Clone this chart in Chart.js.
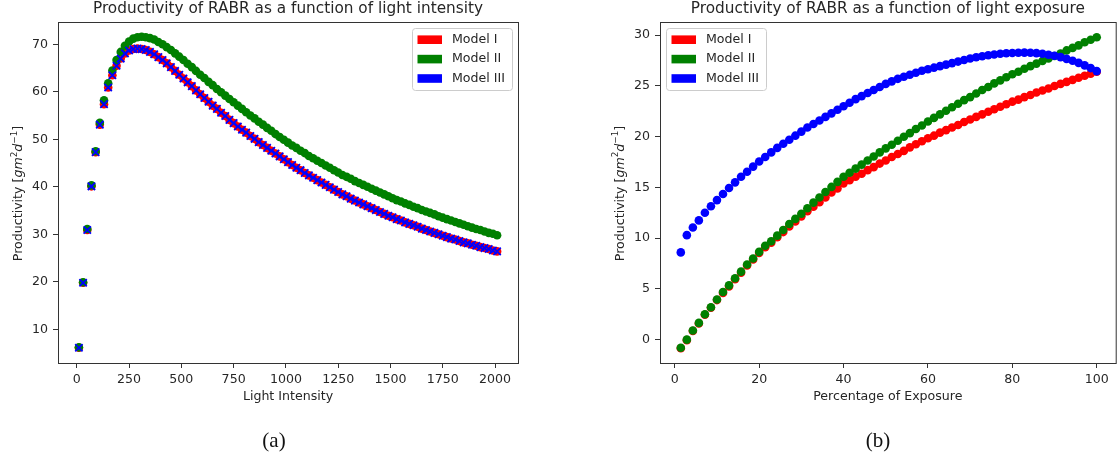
<!DOCTYPE html>
<html><head><meta charset="utf-8">
<script src="https://cdn.jsdelivr.net/npm/chart.js@4.4.1/dist/chart.umd.min.js"></script>
<style>
html,body{margin:0;padding:0;background:#fff;overflow:hidden;}
#page{position:relative;width:1119px;height:460px;overflow:hidden;background:#fff;}
.pane{position:absolute;top:0;}
.cap{position:absolute;top:430px;line-height:21px;font-family:"Liberation Serif","DejaVu Serif",serif;font-size:21px;color:#111;transform:translateX(-50%);white-space:nowrap;}
</style></head>
<body>
<div id="page">
 <div class="pane" style="left:0;width:540px;height:460px"><canvas id="c1" width="540" height="460"></canvas></div>
 <div class="pane" style="left:560px;width:560px;height:460px"><canvas id="c2" width="560" height="460"></canvas></div>
 <div class="cap" style="left:274px">(a)</div>
 <div class="cap" style="left:878px">(b)</div>
</div>
<script>
// ---------- data: panel (a) ----------
const lightIntensity = [
  10, 30, 50, 70, 90, 110, 130, 150, 170, 190,
  210, 230, 250, 270, 290, 310, 330, 350, 370, 390,
  410, 430, 450, 470, 490, 510, 530, 550, 570, 590,
  610, 630, 650, 670, 690, 710, 730, 750, 770, 790,
  810, 830, 850, 870, 890, 910, 930, 950, 970, 990,
  1010, 1030, 1050, 1070, 1090, 1110, 1130, 1150, 1170, 1190,
  1210, 1230, 1250, 1270, 1290, 1310, 1330, 1350, 1370, 1390,
  1410, 1430, 1450, 1470, 1490, 1510, 1530, 1550, 1570, 1590,
  1610, 1630, 1650, 1670, 1690, 1710, 1730, 1750, 1770, 1790,
  1810, 1830, 1850, 1870, 1890, 1910, 1930, 1950, 1970, 1990,
  2010
];
const modelI_intensity = [
  6.1, 19.8, 30.9, 40.1, 47.3, 53.1, 57.4, 60.9, 63.5, 65.5,
  67.0, 68.1, 68.7, 69.0, 69.1, 69.0, 68.8, 68.4, 67.9, 67.3,
  66.7, 66.0, 65.2, 64.4, 63.6, 62.8, 62.0, 61.2, 60.3, 59.5,
  58.7, 57.9, 57.1, 56.4, 55.6, 54.9, 54.1, 53.4, 52.7, 52.0,
  51.4, 50.7, 50.1, 49.4, 48.8, 48.2, 47.6, 47.0, 46.4, 45.8,
  45.2, 44.6, 44.0, 43.5, 42.9, 42.4, 41.9, 41.4, 40.9, 40.4,
  39.9, 39.4, 38.9, 38.4, 38.0, 37.5, 37.1, 36.7, 36.3, 35.9,
  35.5, 35.1, 34.7, 34.3, 33.9, 33.6, 33.2, 32.9, 32.5, 32.2,
  31.9, 31.6, 31.2, 30.9, 30.6, 30.3, 30.0, 29.7, 29.4, 29.1,
  28.9, 28.6, 28.3, 28.1, 27.8, 27.6, 27.3, 27.1, 26.9, 26.6,
  26.4
];
const modelII_intensity = [
  6.2, 19.9, 31.1, 40.3, 47.5, 53.5, 58.2, 61.8, 64.5, 66.7,
  68.4, 69.7, 70.6, 71.2, 71.5, 71.6, 71.5, 71.3, 71.0, 70.5,
  70.0, 69.4, 68.8, 68.1, 67.4, 66.7, 65.9, 65.2, 64.4, 63.6,
  62.9, 62.1, 61.4, 60.6, 59.9, 59.2, 58.5, 57.8, 57.1, 56.4,
  55.7, 55.0, 54.4, 53.7, 53.1, 52.4, 51.8, 51.1, 50.5, 49.9,
  49.3, 48.7, 48.2, 47.6, 47.1, 46.5, 46.0, 45.5, 45.0, 44.5,
  44.0, 43.5, 43.0, 42.5, 42.1, 41.7, 41.2, 40.8, 40.4, 40.0,
  39.6, 39.2, 38.8, 38.4, 38.0, 37.6, 37.2, 36.9, 36.5, 36.2,
  35.8, 35.5, 35.1, 34.8, 34.5, 34.2, 33.8, 33.5, 33.2, 32.9,
  32.6, 32.3, 32.0, 31.7, 31.4, 31.1, 30.9, 30.6, 30.3, 30.1,
  29.8
];
const modelIII_intensity = [
  6.1, 19.8, 30.9, 40.1, 47.3, 53.1, 57.4, 60.9, 63.5, 65.5,
  67.0, 68.1, 68.7, 69.0, 69.1, 69.0, 68.8, 68.4, 67.9, 67.3,
  66.7, 66.0, 65.2, 64.4, 63.6, 62.8, 62.0, 61.2, 60.3, 59.5,
  58.7, 57.9, 57.1, 56.4, 55.6, 54.9, 54.1, 53.4, 52.7, 52.0,
  51.4, 50.7, 50.1, 49.4, 48.8, 48.2, 47.6, 47.0, 46.4, 45.8,
  45.2, 44.6, 44.0, 43.5, 42.9, 42.4, 41.9, 41.4, 40.9, 40.4,
  39.9, 39.4, 38.9, 38.4, 38.0, 37.5, 37.1, 36.7, 36.3, 35.9,
  35.5, 35.1, 34.7, 34.3, 33.9, 33.6, 33.2, 32.9, 32.5, 32.2,
  31.9, 31.6, 31.2, 30.9, 30.6, 30.3, 30.0, 29.7, 29.4, 29.1,
  28.9, 28.6, 28.3, 28.1, 27.8, 27.6, 27.3, 27.1, 26.9, 26.6,
  26.4
];

// ---------- data: panel (b) ----------
const exposurePct = [
  1.43, 2.86, 4.29, 5.71, 7.14, 8.57, 10, 11.43, 12.86, 14.29,
  15.71, 17.14, 18.57, 20, 21.43, 22.86, 24.29, 25.71, 27.14, 28.57,
  30, 31.43, 32.86, 34.29, 35.71, 37.14, 38.57, 40, 41.43, 42.86,
  44.29, 45.71, 47.14, 48.57, 50, 51.43, 52.86, 54.29, 55.71, 57.14,
  58.57, 60, 61.43, 62.86, 64.29, 65.71, 67.14, 68.57, 70, 71.43,
  72.86, 74.29, 75.71, 77.14, 78.57, 80, 81.43, 82.86, 84.29, 85.71,
  87.14, 88.57, 90, 91.43, 92.86, 94.29, 95.71, 97.14, 98.57, 100
];
const modelI_exposure = [
  -0.85, -0.05, 0.85, 1.6, 2.45, 3.15, 3.9, 4.6, 5.25, 5.95,
  6.6, 7.3, 7.9, 8.55, 9.1, 9.55, 10.1, 10.6, 11.15, 11.65,
  12.15, 12.65, 13.1, 13.55, 14.0, 14.5, 14.9, 15.4, 15.7, 16.05,
  16.35, 16.7, 17.0, 17.35, 17.65, 18.0, 18.3, 18.6, 18.95, 19.25,
  19.55, 19.85, 20.1, 20.4, 20.65, 20.9, 21.15, 21.45, 21.7, 21.95,
  22.2, 22.45, 22.7, 22.95, 23.2, 23.45, 23.65, 23.9, 24.1, 24.35,
  24.55, 24.75, 25.0, 25.2, 25.4, 25.6, 25.8, 26.0, 26.2, 26.4
];
const modelII_exposure = [
  -0.8, 0.0, 0.9, 1.65, 2.5, 3.2, 3.95, 4.7, 5.35, 6.05,
  6.7, 7.4, 8.0, 8.65, 9.25, 9.7, 10.25, 10.8, 11.4, 11.9,
  12.4, 12.95, 13.5, 14.0, 14.55, 15.05, 15.55, 16.05, 16.45, 16.85,
  17.25, 17.65, 18.05, 18.45, 18.85, 19.2, 19.6, 20.0, 20.35, 20.75,
  21.1, 21.5, 21.85, 22.2, 22.55, 22.9, 23.25, 23.6, 23.9, 24.25,
  24.6, 24.9, 25.25, 25.55, 25.85, 26.15, 26.4, 26.7, 26.95, 27.2,
  27.45, 27.7, 27.95, 28.2, 28.5, 28.75, 29.0, 29.3, 29.55, 29.8
];
const modelIII_exposure = [
  8.6, 10.3, 11.05, 11.75, 12.5, 13.15, 13.75, 14.35, 14.95, 15.5,
  16.05, 16.55, 17.05, 17.55, 18.0, 18.45, 18.9, 19.3, 19.7, 20.1,
  20.5, 20.9, 21.25, 21.6, 21.95, 22.3, 22.65, 23.0, 23.35, 23.7,
  24.0, 24.3, 24.6, 24.9, 25.2, 25.45, 25.7, 25.9, 26.1, 26.3,
  26.5, 26.65, 26.8, 26.95, 27.1, 27.25, 27.4, 27.55, 27.7, 27.82,
  27.93, 28.02, 28.1, 28.17, 28.22, 28.25, 28.27, 28.28, 28.27, 28.23,
  28.17, 28.08, 27.98, 27.84, 27.67, 27.48, 27.27, 27.03, 26.76, 26.46
];

// ---------- labels & ticks ----------
const seriesNames = ['Model I', 'Model II', 'Model III'];
const seriesColors = ['#ff0000', '#008000', '#0000ff'];
const titleA = 'Productivity of RABR as a function of light intensity';
const titleB = 'Productivity of RABR as a function of light exposure';
const xLabelA = 'Light Intensity';
const xLabelB = 'Percentage of Exposure';
const xTicksA = [0, 250, 500, 750, 1000, 1250, 1500, 1750, 2000];
const xTickLabelsA = ['0', '250', '500', '750', '1000', '1250', '1500', '1750', '2000'];
const yTicksA = [10, 20, 30, 40, 50, 60, 70];
const yTickLabelsA = ['10', '20', '30', '40', '50', '60', '70'];
const xTicksB = [0, 20, 40, 60, 80, 100];
const xTickLabelsB = ['0', '20', '40', '60', '80', '100'];
const yTicksB = [0, 5, 10, 15, 20, 25, 30];
const yTickLabelsB = ['0', '5', '10', '15', '20', '25', '30'];

// ---------- styling ----------
const FAM = "'DejaVu Sans', sans-serif";
const TXT = '#262626';
const FS = 12.6;
const TFS = 15.3;
Chart.defaults.font.family = FAM;
Chart.defaults.color = TXT;

function pts(xs, ys) { return xs.map((x, i) => ({x: x, y: ys[i]})); }

function makeDatasets(xs, ys1, ys2, ys3, crossIII) {
  const base = (i, ys) => ({
    label: seriesNames[i], data: pts(xs, ys),
    backgroundColor: seriesColors[i], borderColor: seriesColors[i],
    pointRadius: 4.3, pointHoverRadius: 4.3, pointBorderWidth: 0, borderWidth: 0,
    pointStyle: 'circle', order: 3 - i
  });
  const d1 = base(0, ys1), d2 = base(1, ys2), d3 = base(2, ys3);
  if (crossIII) {
    Object.assign(d3, {pointStyle: 'crossRot', pointRadius: 5.2, pointHoverRadius: 5.2,
      pointBorderWidth: 1.8, borderWidth: 1.8});
  }
  return [d1, d2, d3];
}

function drawYTitle(ctx, baseX, cy) {
  const normal = FS + 'px ' + FAM, ital = 'italic ' + FS + 'px ' + FAM, small = (FS * 0.7) + 'px ' + FAM;
  const parts = [
    {t: 'Productivity [', f: normal, dy: 0},
    {t: 'gm', f: ital, dy: 0},
    {t: '2', f: small, dy: -FS * 0.42},
    {t: 'd', f: ital, dy: 0},
    {t: '\u22121', f: small, dy: -FS * 0.42},
    {t: ']', f: normal, dy: 0}
  ];
  ctx.save();
  let total = 0;
  parts.forEach(p => { ctx.font = p.f; p.w = ctx.measureText(p.t).width; total += p.w; });
  ctx.translate(baseX, cy);
  ctx.rotate(-Math.PI / 2);
  ctx.fillStyle = TXT;
  ctx.textBaseline = 'alphabetic';
  ctx.textAlign = 'left';
  let x = -total / 2;
  parts.forEach(p => { ctx.font = p.f; ctx.fillText(p.t, x, p.dy); x += p.w; });
  ctx.restore();
}

function drawLegend(ctx, x0, y0) {
  const w = 100, h = 62, r = 3;
  ctx.save();
  ctx.beginPath();
  ctx.moveTo(x0 + r, y0);
  ctx.lineTo(x0 + w - r, y0); ctx.quadraticCurveTo(x0 + w, y0, x0 + w, y0 + r);
  ctx.lineTo(x0 + w, y0 + h - r); ctx.quadraticCurveTo(x0 + w, y0 + h, x0 + w - r, y0 + h);
  ctx.lineTo(x0 + r, y0 + h); ctx.quadraticCurveTo(x0, y0 + h, x0, y0 + h - r);
  ctx.lineTo(x0, y0 + r); ctx.quadraticCurveTo(x0, y0, x0 + r, y0);
  ctx.closePath();
  ctx.fillStyle = 'rgba(255,255,255,0.8)';
  ctx.fill();
  ctx.strokeStyle = '#cccccc';
  ctx.lineWidth = 1;
  ctx.stroke();
  ctx.font = FS + 'px ' + FAM;
  ctx.textBaseline = 'middle';
  ctx.textAlign = 'left';
  seriesNames.forEach((name, i) => {
    const cy = y0 + 11.2 + i * 19.4;
    ctx.fillStyle = seriesColors[i];
    ctx.fillRect(x0 + 5, cy - 4.3, 24.5, 8.6);
    ctx.fillStyle = TXT;
    ctx.fillText(name, x0 + 39.5, cy);
  });
  ctx.restore();
}

const decor = {
  id: 'decor',
  afterDraw(chart, args, o) {
    const ctx = chart.ctx, a = chart.chartArea;
    ctx.save();
    ctx.strokeStyle = '#333';
    ctx.lineWidth = 1;
    ctx.strokeRect(a.left + 0.5, a.top + 0.5, a.right - a.left, a.bottom - a.top);
    ctx.restore();
    drawYTitle(ctx, o.yTitleX, (a.top + a.bottom) / 2 + 1);
    drawLegend(ctx, o.legendX, o.legendY);
  }
};

function makeChart(id, cfg) {
  const grid = {display: true, drawOnChartArea: false, drawTicks: true, tickLength: 5, tickWidth: 1, tickColor: '#333'};
  return new Chart(document.getElementById(id), {
    type: 'scatter',
    data: {datasets: cfg.datasets},
    options: {
      responsive: false, maintainAspectRatio: false, animation: false, events: [],
      layout: {padding: {left: 0, right: cfg.padRight, top: 0, bottom: 0}},
      plugins: {
        legend: {display: false},
        tooltip: {enabled: false},
        title: {display: true, text: cfg.title, fullSize: false, color: TXT,
          font: {size: TFS, weight: 'normal', family: FAM, lineHeight: 1.2},
          padding: {top: 0, bottom: 22 - TFS * 1.2}},
        decor: cfg.decor
      },
      scales: {
        x: {
          type: 'linear', position: 'bottom', min: cfg.xMin, max: cfg.xMax,
          afterBuildTicks: s => { s.ticks = cfg.xTicks.map(v => ({value: v})); },
          afterFit: s => { s.height = 97; },
          grid: grid, border: {display: false},
          ticks: {font: {size: FS, lineHeight: 1.2}, color: TXT, padding: 4, maxRotation: 0, autoSkip: false,
            callback: (v, i) => cfg.xTickLabels[i]},
          title: {display: true, text: cfg.xLabel, color: TXT, font: {size: FS, lineHeight: 1.2},
            padding: {top: 0, bottom: 63 - FS * 0.6}}
        },
        y: {
          type: 'linear', position: 'left', min: cfg.yMin, max: cfg.yMax,
          afterBuildTicks: s => { s.ticks = cfg.yTicks.map(v => ({value: v})); },
          afterFit: s => { s.width = cfg.yWidth; },
          grid: grid, border: {display: false},
          ticks: {font: {size: FS}, color: TXT, padding: 5, autoSkip: false,
            callback: (v, i) => cfg.yTickLabels[i]},
          title: {display: false}
        }
      }
    },
    plugins: [decor]
  });
}

makeChart('c1', {
  datasets: makeDatasets(lightIntensity, modelI_intensity, modelII_intensity, modelIII_intensity, true),
  title: titleA, xLabel: xLabelA,
  xMin: -90, xMax: 2110, yMin: 2.9, yMax: 74.7,
  xTicks: xTicksA, xTickLabels: xTickLabelsA, yTicks: yTicksA, yTickLabels: yTickLabelsA,
  yWidth: 58, padRight: 22,
  decor: {yTitleX: 22, legendX: 412.5, legendY: 28.5}
});
makeChart('c2', {
  datasets: makeDatasets(exposurePct, modelI_exposure, modelII_exposure, modelIII_exposure, false),
  title: titleB, xLabel: xLabelB,
  xMin: -3.5, xMax: 104.5, yMin: -2.3, yMax: 31.3,
  xTicks: xTicksB, xTickLabels: xTickLabelsB, yTicks: yTicksB, yTickLabels: yTickLabelsB,
  yWidth: 100, padRight: 2,
  decor: {yTitleX: 63.7, legendX: 106.5, legendY: 28.5}
});
</script>
</body></html>
